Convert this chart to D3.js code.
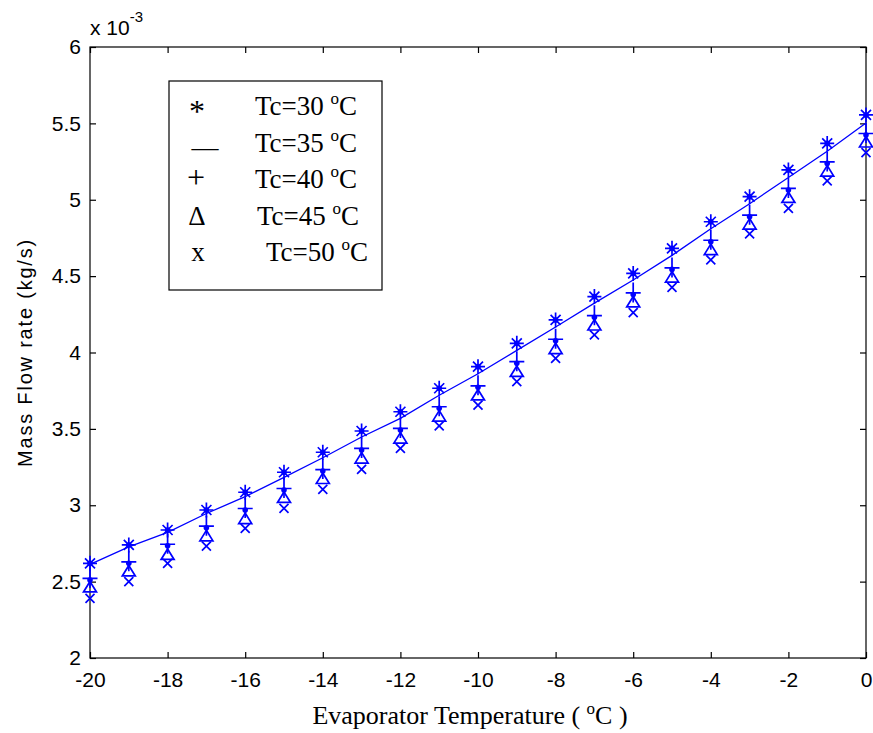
<!DOCTYPE html>
<html>
<head>
  <meta charset="utf-8">
  <title>Mass flow rate</title>
  <script src="https://d3js.org/d3.v7.min.js"></script>
  <style>
    body { margin: 0; background: #fff; }
  </style>
</head>
<body>
  <div id="chart"></div>
  <script type="text/javascript">

    // Verdampfertemperatur (x-Werte)
    var evapTemp = [-20, -19, -18, -17, -16, -15, -14, -13, -12, -11, -10,
                    -9, -8, -7, -6, -5, -4, -3, -2, -1, 0];

    // Massenstrom in 10^-3 kg/s, je Kondensationstemperatur
    var tc30 = [2.620, 2.740, 2.838, 2.969, 3.085, 3.216, 3.347, 3.486, 3.612, 3.766, 3.907,
                4.060, 4.213, 4.366, 4.518, 4.682, 4.856, 5.020, 5.195, 5.369, 5.555];
    var tc35 = [2.613, 2.727, 2.822, 2.946, 3.056, 3.183, 3.311, 3.447, 3.569, 3.720, 3.861,
                4.014, 4.167, 4.323, 4.475, 4.636, 4.810, 4.974, 5.146, 5.317, 5.503];
    var tc40 = [2.511, 2.620, 2.735, 2.853, 2.969, 3.100, 3.224, 3.362, 3.493, 3.635, 3.772,
                3.930, 4.077, 4.231, 4.380, 4.544, 4.725, 4.889, 5.064, 5.238, 5.424];
    var tc45 = [2.465, 2.570, 2.678, 2.800, 2.913, 3.051, 3.175, 3.309, 3.440, 3.584, 3.722,
                3.876, 4.026, 4.180, 4.331, 4.494, 4.674, 4.841, 5.015, 5.188, 5.378];
    var tc50 = [2.391, 2.500, 2.620, 2.733, 2.849, 2.980, 3.104, 3.235, 3.373, 3.519, 3.656,
                3.809, 3.962, 4.115, 4.261, 4.427, 4.606, 4.776, 4.944, 5.123, 5.308];

    // Achsenbeschriftungen
    var xTicks = [-20, -18, -16, -14, -12, -10, -8, -6, -4, -2, 0];
    var yTicks = [2, 2.5, 3, 3.5, 4, 4.5, 5, 5.5, 6];

    // Legende
    var legendSymbols = ['*', '\u2014', '+', '\u0394', 'x'];
    var legendTemps = ['30', '35', '40', '45', '50'];

    var width = 873, height = 733;
    var margin = { top: 47, right: 7, bottom: 75, left: 90 };
    var blue = '#0000ff';

    var svg = d3.select('#chart')
      .append('svg')
        .attr('width', width)
        .attr('height', height);

    var xScale = d3.scaleLinear()
      .domain([-20, 0])
      .range([margin.left, width - margin.right]);
    var yScale = d3.scaleLinear()
      .domain([2, 6])
      .range([height - margin.bottom, margin.top]);

    var x0 = xScale.range()[0], x1 = xScale.range()[1];
    var yb = yScale.range()[0], yt = yScale.range()[1];

    // Achsen (Ticks nach innen, wie in MATLAB)
    var axisFont = '"Liberation Sans", Arial, sans-serif';
    var plain = function (d) { return String(d); };

    var gx = svg.append('g')
      .attr('transform', 'translate(0,' + yb + ')')
      .call(d3.axisBottom(xScale).tickValues(xTicks).tickSizeInner(-6).tickSizeOuter(0)
        .tickPadding(14).tickFormat(plain));
    var gy = svg.append('g')
      .attr('transform', 'translate(' + x0 + ',0)')
      .call(d3.axisLeft(yScale).tickValues(yTicks).tickSizeInner(-6).tickSizeOuter(0)
        .tickPadding(9).tickFormat(plain));
    var gxTop = svg.append('g')
      .attr('transform', 'translate(0,' + yt + ')')
      .call(d3.axisTop(xScale).tickValues(xTicks).tickSizeInner(-6).tickSizeOuter(0).tickFormat(''));
    var gyRight = svg.append('g')
      .attr('transform', 'translate(' + x1 + ',0)')
      .call(d3.axisRight(yScale).tickValues(yTicks).tickSizeInner(-6).tickSizeOuter(0).tickFormat(''));

    [gx, gy, gxTop, gyRight].forEach(function (g) {
      g.select('.domain').remove();
      g.selectAll('line').attr('stroke', '#000').attr('stroke-width', 1.2);
      g.selectAll('text')
        .attr('fill', '#000')
        .style('font-family', axisFont)
        .style('font-size', '21px');
    });

    // Rahmen
    svg.append('rect')
      .attr('x', x0).attr('y', yt)
      .attr('width', x1 - x0).attr('height', yb - yt)
      .attr('fill', 'none')
      .attr('stroke', '#000')
      .attr('stroke-width', 1.2);

    // Exponent oben links
    var expo = svg.append('text')
      .attr('x', x0)
      .attr('y', 35)
      .style('font-family', axisFont)
      .style('font-size', '21px')
      .text('x 10');
    expo.append('tspan')
      .attr('dy', -13)
      .style('font-size', '15px')
      .text('-3');

    // Achsentitel
    svg.append('text')
      .attr('transform', 'translate(32,' + yScale(4) + ') rotate(-90)')
      .attr('text-anchor', 'middle')
      .style('font-family', axisFont)
      .style('font-size', '20px')
      .style('letter-spacing', '1.8px')
      .text('Mass Flow rate (kg/s)');

    var xTitle = svg.append('text')
      .attr('x', 470)
      .attr('y', 724)
      .attr('text-anchor', 'middle')
      .style('font-family', '"Liberation Serif", "Times New Roman", serif')
      .style('font-size', '26px')
      .text('Evaporator Temperature ( ');
    xTitle.append('tspan').attr('dy', -10).style('font-size', '17px').text('o');
    xTitle.append('tspan').attr('dy', 10).text('C )');

    // Linie (Tc=35)
    var line = d3.line()
      .x(function (d, i) { return xScale(evapTemp[i]); })
      .y(function (d) { return yScale(d); });

    var plot = svg.append('g');

    plot.append('path')
      .datum(tc35)
      .attr('d', line)
      .attr('fill', 'none')
      .attr('stroke', blue)
      .attr('stroke-width', 1.3);

    // Markerformen
    var shapes = {
      star: 'M-7,0H7M0,-7.5V7.5M-5,-5L5,5M-5,5L5,-5',
      plus: 'M-7.5,-1.5H7.5M0,-12V8',
      tri: 'M0,-5.5L6.5,5L-6.5,5Z',
      cross: 'M-4.5,-4.5L4.5,4.5M-4.5,4.5L4.5,-4.5'
    };

    function drawMarkers(values, shape, dot) {
      var g = plot.append('g');
      var m = g.selectAll('g')
        .data(values)
        .enter()
        .append('g')
          .attr('transform', function (d, i) {
            return 'translate(' + xScale(evapTemp[i]) + ',' + yScale(d) + ')';
          });
      m.append('path')
        .attr('d', shape)
        .attr('fill', 'none')
        .attr('stroke', blue)
        .attr('stroke-width', 1.7);
      if (dot) {
        m.append('circle').attr('r', 2.8).attr('fill', blue);
      }
    }

    drawMarkers(tc30, shapes.star, true);
    drawMarkers(tc40, shapes.plus, true);
    drawMarkers(tc45, shapes.tri, false);
    drawMarkers(tc50, shapes.cross, false);

    // Legende
    var serif = '"Liberation Serif", "Times New Roman", serif';
    var legend = svg.append('g');
    legend.append('rect')
      .attr('x', 169).attr('y', 81)
      .attr('width', 213).attr('height', 209)
      .attr('fill', '#fff')
      .attr('stroke', '#000')
      .attr('stroke-width', 1.2);

    var symX = [197, 205, 196, 197, 198];
    var symSize = [32, 27, 32, 27, 27];
    var symDy = [7, 4, 0, 0, 0];

    legendTemps.forEach(function (t, i) {
      var yy = 115 + i * 36.5;
      legend.append('text')
        .attr('x', symX[i])
        .attr('y', yy + symDy[i])
        .attr('text-anchor', 'middle')
        .style('font-family', serif)
        .style('font-size', symSize[i] + 'px')
        .text(legendSymbols[i]);
      var tx = legend.append('text')
        .attr('x', i === 4 ? 266 : (i === 3 ? 257 : 255))
        .attr('y', yy)
        .style('font-family', serif)
        .style('font-size', '27px')
        .text('Tc=' + t + ' ');
      tx.append('tspan').attr('dy', -11).style('font-size', '17px').text('o');
      tx.append('tspan').attr('dy', 11).text('C');
    });
  </script>
</body>
</html>
